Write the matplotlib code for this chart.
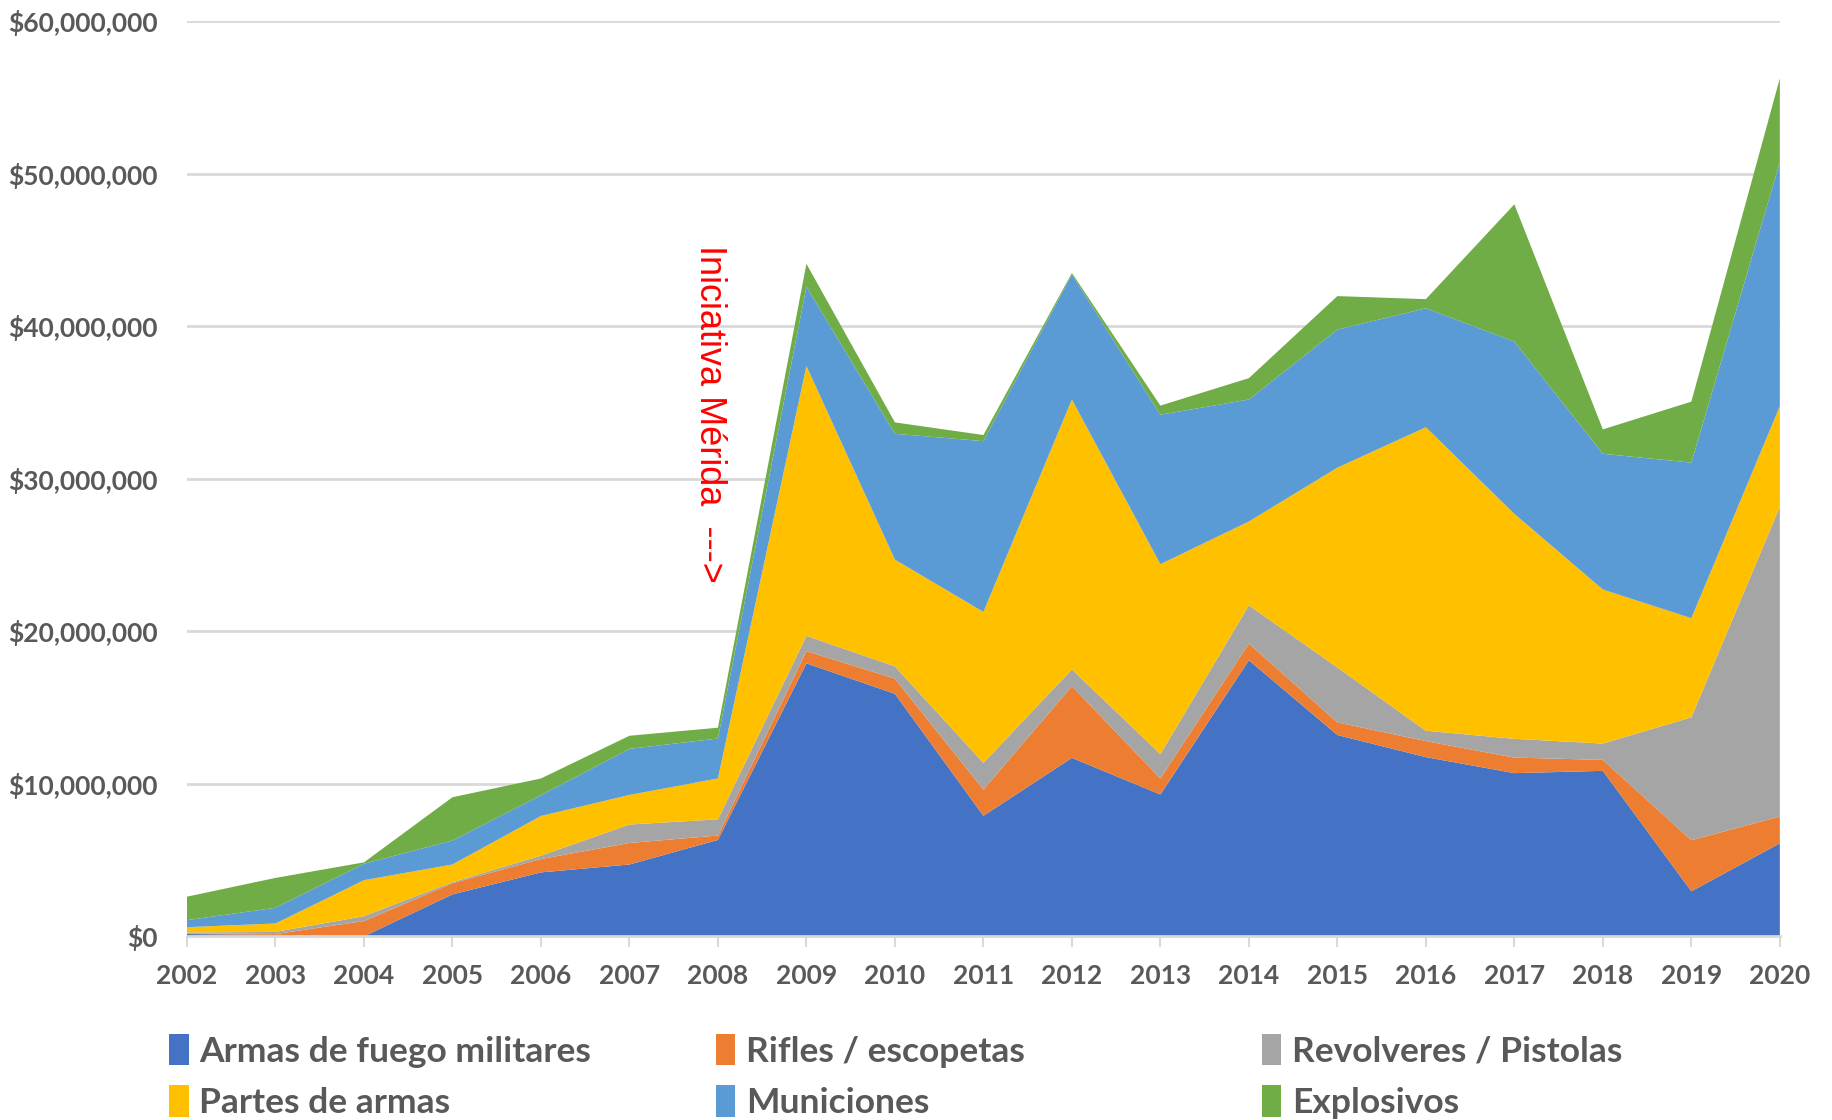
import matplotlib
matplotlib.use("Agg")
from matplotlib import pyplot as plt
from matplotlib.patches import Patch
from matplotlib.ticker import FuncFormatter

# datos (USD)
anios = list(range(2002, 2021))
armas_militares = [0.15e6, 0.10e6, 0.0, 2.75e6, 4.19e6, 4.71e6, 6.32e6, 17.9e6, 15.9e6, 7.9e6,
                   11.7e6, 9.3e6, 18.1e6, 13.2e6, 11.75e6, 10.7e6, 10.85e6, 2.95e6, 6.1e6]
rifles = [0.05e6, 0.05e6, 1.0e6, 0.73e6, 0.88e6, 1.41e6, 0.29e6, 0.8e6, 1.0e6, 1.72e6,
          4.7e6, 1.05e6, 1.1e6, 0.83e6, 1.05e6, 1.02e6, 0.72e6, 3.35e6, 1.76e6]
revolveres = [0.05e6, 0.14e6, 0.32e6, 0.07e6, 0.22e6, 1.21e6, 1.06e6, 1.0e6, 0.8e6, 1.75e6,
              1.1e6, 1.6e6, 2.5e6, 3.6e6, 0.68e6, 1.23e6, 1.07e6, 8.06e6, 20.3e6]
partes = [0.35e6, 0.55e6, 2.36e6, 1.16e6, 2.6e6, 1.94e6, 2.68e6, 17.7e6, 7.0e6, 9.9e6,
          17.7e6, 12.45e6, 5.5e6, 13.1e6, 19.9e6, 14.75e6, 10.1e6, 6.5e6, 6.6e6]
municiones = [0.46e6, 1.03e6, 1.08e6, 1.57e6, 1.36e6, 3.02e6, 2.62e6, 5.2e6, 8.25e6, 11.2e6,
              8.2e6, 9.8e6, 8.0e6, 9.05e6, 7.8e6, 11.3e6, 8.9e6, 10.2e6, 16.0e6]
explosivos = [1.54e6, 1.96e6, 0.09e6, 2.84e6, 1.1e6, 0.86e6, 0.71e6, 1.5e6, 0.75e6, 0.4e6,
              0.1e6, 0.6e6, 1.4e6, 2.2e6, 0.6e6, 9.0e6, 1.6e6, 4.0e6, 5.5e6]

series = ["Armas de fuego militares", "Rifles / escopetas", "Revolveres / Pistolas",
          "Partes de armas", "Municiones", "Explosivos"]
colores = ["#4472C4", "#ED7D31", "#A5A5A5", "#FFC000", "#5B9BD5", "#70AD47"]

gris = "#595959"
fuente = ["Lato", "DejaVu Sans"]

fig = plt.figure(figsize=(18.33, 11.2), dpi=100)
ax = fig.add_axes([0.102, 0.164, 0.869, 0.817])

ax.stackplot(anios, armas_militares, rifles, revolveres, partes, municiones, explosivos,
             colors=colores, linewidth=0, zorder=2)

ax.set_xlim(2002, 2020)
ax.set_ylim(0, 60e6)
ax.set_yticks(range(0, 60000001, 10000000))
ax.yaxis.set_major_formatter(FuncFormatter(lambda v, p: "${:,.0f}".format(v)))
ax.set_xticks(anios)

ax.grid(axis="y", color="#D9D9D9", linewidth=2, zorder=0)
ax.set_axisbelow(True)
for s in ["top", "right", "left"]:
    ax.spines[s].set_visible(False)
ax.spines["bottom"].set_color("#D9D9D9")
ax.spines["bottom"].set_linewidth(2)

ax.tick_params(axis="y", length=0, pad=21, labelsize=19, labelcolor=gris)
ax.tick_params(axis="x", length=8, width=1.5, color="#D9D9D9", pad=12,
               labelsize=19, labelcolor=gris)
for lab in ax.get_xticklabels() + ax.get_yticklabels():
    lab.set_family(fuente)
    lab.set_fontweight("bold")

# anotacion
ax.text(2007.9, 45.3e6, "Iniciativa Mérida  --->", rotation=-90, color="red",
        fontsize=26, ha="center", va="top", family=["Liberation Sans", "DejaVu Sans"])

# leyenda: tres columnas de ancho igual
columnas_x = [0.092, 0.390, 0.688]
for c in range(3):
    hs = [Patch(facecolor=colores[i], edgecolor="none", label=series[i]) for i in (c, c + 3)]
    leg = fig.legend(handles=hs, loc="lower left", bbox_to_anchor=(columnas_x[c], 0.0),
                     frameon=False, handlelength=0.55, handleheight=1.0, handletextpad=0.3,
                     borderaxespad=0, borderpad=0.02, labelspacing=0.5,
                     prop={"family": fuente, "size": 25.5, "weight": "bold"})
    for t in leg.get_texts():
        t.set_color(gris)

fig.savefig("out.png", dpi=100)
